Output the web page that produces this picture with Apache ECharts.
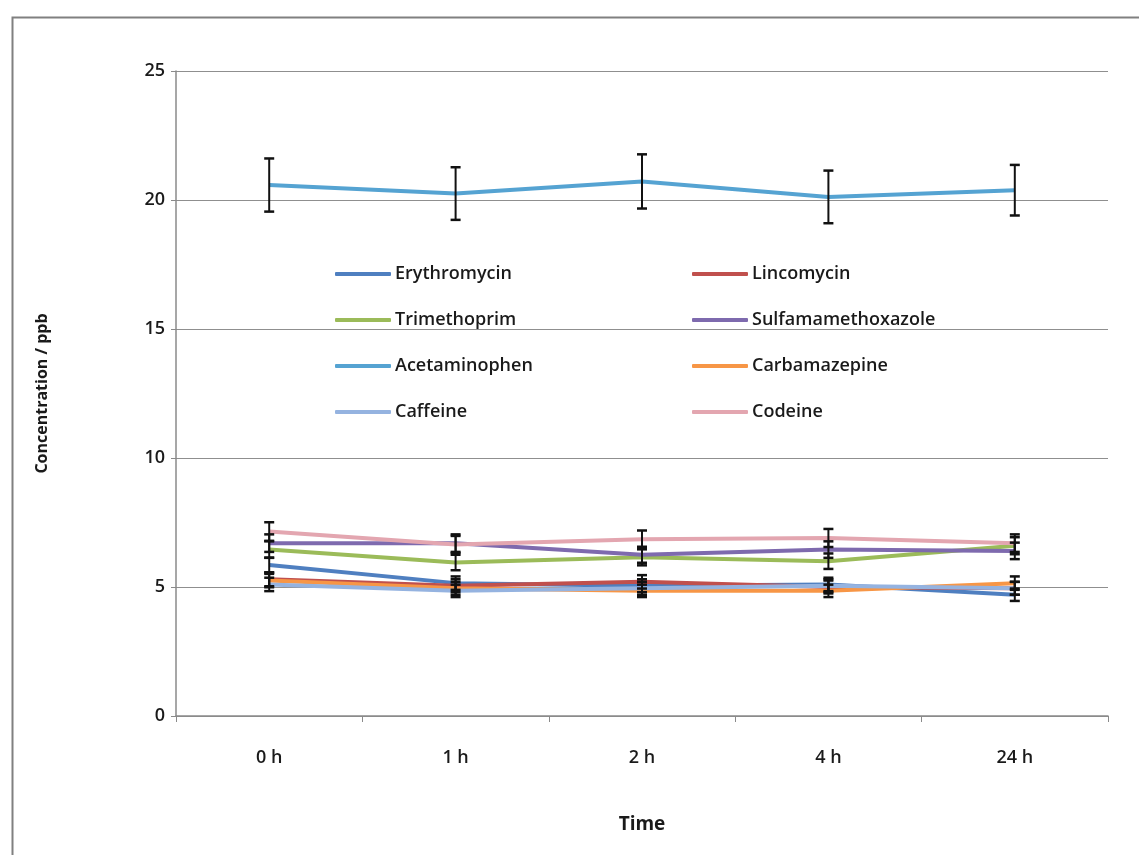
<!DOCTYPE html>
<html>
<head>
<meta charset="utf-8">
<style>
  html, body { margin: 0; padding: 0; background: #fff; }
  #chart { width: 1139px; height: 855px; }
</style>
<script src="https://cdn.jsdelivr.net/npm/echarts@6/dist/echarts.min.js"></script>
</head>
<body>
<div id="chart"></div>
<script>
// Sampling times
const times = ['0 h', '1 h', '2 h', '4 h', '24 h'];

// Mean concentrations (ppb) per compound
const erythromycin     = [5.85, 5.15, 5.05, 5.10, 4.70];
const lincomycin       = [5.30, 5.05, 5.20, 5.00, 4.95];
const trimethoprim     = [6.45, 5.95, 6.15, 6.00, 6.60];
const sulfamethoxazole = [6.70, 6.70, 6.25, 6.45, 6.40];
const acetaminophen    = [20.58, 20.25, 20.72, 20.12, 20.38];
const carbamazepine    = [5.25, 4.95, 4.85, 4.85, 5.15];
const caffeine         = [5.10, 4.85, 4.95, 5.05, 4.95];
const codeine          = [7.15, 6.65, 6.85, 6.90, 6.70];

// Error-bar half widths (ppb)
const erythromycinErr     = [0.29, 0.26, 0.25, 0.26, 0.24];
const lincomycinErr       = [0.27, 0.25, 0.26, 0.25, 0.25];
const trimethoprimErr     = [0.32, 0.30, 0.31, 0.30, 0.33];
const sulfamethoxazoleErr = [0.34, 0.34, 0.31, 0.32, 0.32];
const acetaminophenErr    = [1.03, 1.02, 1.05, 1.02, 0.98];
const carbamazepineErr    = [0.26, 0.25, 0.24, 0.24, 0.26];
const caffeineErr         = [0.26, 0.24, 0.25, 0.25, 0.25];
const codeineErr          = [0.36, 0.33, 0.34, 0.35, 0.34];

// Y axis ticks
const yMin = 0, yMax = 25, yStep = 5;

const compounds = [
  { name: 'Erythromycin',       values: erythromycin,     err: erythromycinErr,     color: '#4F7FC0' },
  { name: 'Lincomycin',         values: lincomycin,       err: lincomycinErr,       color: '#C0504D' },
  { name: 'Trimethoprim',       values: trimethoprim,     err: trimethoprimErr,     color: '#9BBB59' },
  { name: 'Sulfamamethoxazole', values: sulfamethoxazole, err: sulfamethoxazoleErr, color: '#7E6AAE' },
  { name: 'Acetaminophen',      values: acetaminophen,    err: acetaminophenErr,    color: '#55A3D2' },
  { name: 'Carbamazepine',      values: carbamazepine,    err: carbamazepineErr,    color: '#F79646' },
  { name: 'Caffeine',           values: caffeine,         err: caffeineErr,         color: '#95B3E0' },
  { name: 'Codeine',            values: codeine,          err: codeineErr,          color: '#E3A6B0' }
];

const FONT = "'Open Sans', 'DejaVu Sans', sans-serif";
const TEXT = '#1a1a1a';

const lineSeries = compounds.map(c => ({
  name: c.name,
  type: 'line',
  data: c.values,
  symbol: 'none',
  color: c.color,
  lineStyle: { width: 4, color: c.color },
  z: 2
}));

// Vertical error bars with caps, drawn through the axis scales
function renderErrorBar(params, api) {
  const xi = api.value(0);
  const lo = api.coord([xi, api.value(1)]);
  const hi = api.coord([xi, api.value(2)]);
  const cap = 5;
  const style = { stroke: '#111', lineWidth: 2 };
  const capStyle = { stroke: '#111', lineWidth: 2.5 };
  return {
    type: 'group',
    children: [
      { type: 'line', shape: { x1: hi[0], y1: hi[1], x2: lo[0], y2: lo[1] }, style },
      { type: 'line', shape: { x1: hi[0] - cap, y1: hi[1], x2: hi[0] + cap, y2: hi[1] }, style: capStyle },
      { type: 'line', shape: { x1: lo[0] - cap, y1: lo[1], x2: lo[0] + cap, y2: lo[1] }, style: capStyle }
    ]
  };
}

const errorSeries = compounds.map(c => ({
  name: c.name + ' error',
  type: 'custom',
  renderItem: renderErrorBar,
  data: c.values.map((v, i) => [i, v - c.err[i], v + c.err[i]]),
  encode: { x: 0, y: [1, 2] },
  z: 3,
  silent: true
}));

const legendCommon = {
  orient: 'vertical',
  icon: 'roundRect',
  padding: 0,
  itemWidth: 56,
  itemHeight: 4,
  itemGap: 22,
  textStyle: { fontFamily: FONT, fontSize: 18, fontWeight: 600, color: TEXT, lineHeight: 24, padding: [0, 0, 0, -1] }
};

const chart = echarts.init(document.getElementById('chart'), null, { renderer: 'canvas' });
chart.setOption({
  backgroundColor: '#fff',
  animation: false,
  graphic: [{
    type: 'rect',
    left: 10, top: 15,
    shape: { width: 1200, height: 900 },
    style: { fill: 'none', stroke: '#808080', lineWidth: 2 },
    silent: true
  }],
  grid: { left: 176, right: 31, top: 71, bottom: 139 },
  legend: [
    Object.assign({}, legendCommon, {
      left: 335, top: 262,
      data: ['Erythromycin', 'Trimethoprim', 'Acetaminophen', 'Caffeine']
    }),
    Object.assign({}, legendCommon, {
      left: 692, top: 262,
      data: ['Lincomycin', 'Sulfamamethoxazole', 'Carbamazepine', 'Codeine']
    })
  ],
  xAxis: {
    type: 'category',
    data: times,
    boundaryGap: true,
    name: 'Time',
    nameLocation: 'middle',
    nameGap: 99,
    nameTextStyle: { fontFamily: FONT, fontSize: 19, fontWeight: 'bold', color: TEXT },
    axisLine: { lineStyle: { color: '#8a8a8a', width: 1.5 } },
    axisTick: { show: true, alignWithLabel: false, length: 6, lineStyle: { color: '#8a8a8a' } },
    axisLabel: { margin: 33, fontFamily: FONT, fontSize: 18, fontWeight: 600, color: TEXT },
    splitLine: { show: false }
  },
  yAxis: {
    type: 'value',
    min: yMin, max: yMax, interval: yStep,
    name: 'Concentration / ppb',
    nameLocation: 'middle',
    nameGap: 126,
    nameRotate: 90,
    nameTextStyle: { fontFamily: FONT, fontSize: 16, fontWeight: 'bold', color: TEXT },
    axisLine: { show: true, lineStyle: { color: '#8a8a8a', width: 1.5 } },
    axisTick: { show: true, inside: false, length: 5, lineStyle: { color: '#8a8a8a' } },
    axisLabel: { margin: 11, fontFamily: FONT, fontSize: 18, fontWeight: 600, color: TEXT },
    splitLine: { show: true, lineStyle: { color: '#8f8f8f', width: 1.2 } }
  },
  series: lineSeries.concat(errorSeries)
});
</script>
</body>
</html>
